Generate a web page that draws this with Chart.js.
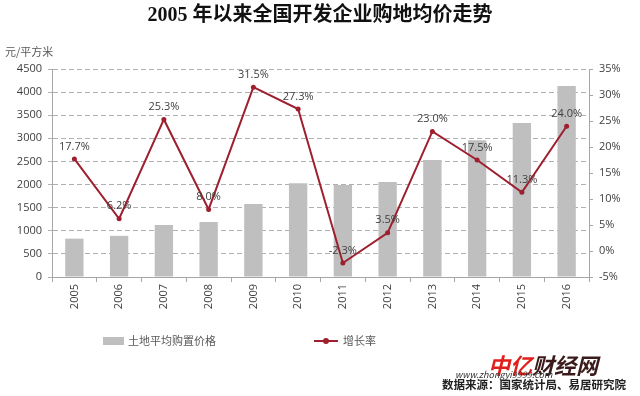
<!DOCTYPE html>
<html>
<head>
<meta charset="utf-8">
<script src="https://cdn.jsdelivr.net/npm/chart.js@4/dist/chart.umd.min.js"></script>
<style>
  body { margin: 0; background: #fff; }
  #wrap { position: relative; width: 640px; height: 396px; overflow: hidden; }
  #chart { position: absolute; left: 0; top: 0; }
  .txt { position: absolute; white-space: nowrap; font-family: "Noto Sans CJK SC", sans-serif; }
</style>
</head>
<body>
<div id="wrap">
  <canvas id="chart" width="640" height="396"></canvas>
  <div class="txt" style="left:0;width:640px;top:-2px;text-align:center;font-family:'Liberation Serif','Noto Sans CJK SC',serif;font-weight:bold;font-size:20px;color:#111;">2005 年以来全国开发企业购地均价走势</div>
  <div class="txt" style="left:5px;top:43px;font-size:11px;color:#595959;">元/平方米</div>
  <div style="position:absolute;left:103px;top:337px;width:21px;height:8px;background:#bfbfbf;"></div>
  <div class="txt" style="left:128px;top:332px;font-size:11px;color:#595959;">土地平均购置价格</div>
  <div style="position:absolute;left:314px;top:340px;width:24px;height:2px;background:#9e1f2e;"></div>
  <div style="position:absolute;left:323px;top:338px;width:6px;height:6px;border-radius:3px;background:#9e1f2e;"></div>
  <div class="txt" style="left:343px;top:332px;font-size:11px;color:#595959;">增长率</div>
  <div class="txt" style="left:488px;top:352px;font-size:22px;line-height:24px;font-weight:bold;font-style:italic;"><span style="color:#e0201c;">中亿</span><span style="color:#3a1a1a;">财经网</span></div>
  <div class="txt" style="left:455px;top:368px;font-size:9px;font-style:italic;color:#333;">www.zhongyi9999.com</div>
  <div class="txt" style="left:442px;top:376px;font-size:11.5px;font-weight:bold;color:#222;">数据来源：国家统计局、易居研究院</div>
</div>
<script>
const years = ["2005", "2006", "2007", "2008", "2009", "2010", "2011", "2012", "2013", "2014", "2015", "2016"];
const landPrice = [830, 890, 1125, 1190, 1580, 2030, 1990, 2055, 2530, 2960, 3330, 4130];
const growth = [17.7, 6.2, 25.3, 8.0, 31.5, 27.3, -2.3, 3.5, 23.0, 17.5, 11.3, 24.0];

const red = "#9e1f2e";

// draws the % value above each point of the growth line
const pointLabels = {
  id: "pointLabels",
  afterDatasetsDraw(chart) {
    const ctx = chart.ctx;
    const meta = chart.getDatasetMeta(1);
    ctx.save();
    ctx.font = "11px 'Open Sans', sans-serif";
    ctx.fillStyle = "#404040";
    ctx.textAlign = "center";
    ctx.textBaseline = "bottom";
    meta.data.forEach((pt, i) => {
      ctx.fillText(growth[i].toFixed(1) + "%", pt.x, pt.y - 7);
    });
    ctx.restore();
  }
};

new Chart(document.getElementById("chart"), {
  data: {
    labels: years,
    datasets: [
      {
        type: "bar",
        label: "土地平均购置价格",
        data: landPrice,
        backgroundColor: "#bfbfbf",
        barPercentage: 0.82,
        categoryPercentage: 0.5,
        yAxisID: "y",
        order: 2
      },
      {
        type: "line",
        label: "增长率",
        data: growth,
        borderColor: red,
        backgroundColor: red,
        borderWidth: 2,
        pointRadius: 2.5,
        pointBackgroundColor: red,
        pointBorderWidth: 0,
        tension: 0,
        yAxisID: "y1",
        order: 1
      }
    ]
  },
  plugins: [pointLabels],
  options: {
    responsive: false,
    animation: false,
    layout: { padding: { top: 69, left: 0, right: 0, bottom: 0 } },
    plugins: {
      legend: { display: false },
      tooltip: { enabled: false }
    },
    scales: {
      x: {
        grid: { display: true, drawOnChartArea: false, offset: true, color: "#a6a6a6", tickLength: 5 },
        border: { color: "#a6a6a6" },
        ticks: {
          color: "#404040",
          font: { size: 11, family: "'Open Sans', sans-serif" },
          minRotation: 90,
          maxRotation: 90,
          padding: 2
        },
        afterFit(s) { s.height = 119; }
      },
      y: {
        position: "left",
        min: 0,
        max: 4500,
        ticks: {
          stepSize: 500,
          color: "#404040",
          font: { size: 11, family: "'Open Sans', sans-serif" },
          padding: 6,
          callback: v => String(v)
        },
        grid: { color: "#b0b0b0", tickLength: 4, drawTicks: true },
        border: { color: "#a6a6a6", dash: [5, 3], display: true },
        afterFit(s) { s.width = 52; }
      },
      y1: {
        position: "right",
        min: -5,
        max: 35,
        ticks: {
          stepSize: 5,
          color: "#404040",
          font: { size: 11, family: "'Open Sans', sans-serif" },
          padding: 6,
          callback: v => v + "%"
        },
        grid: { drawOnChartArea: false, color: "#a6a6a6", tickLength: 4 },
        border: { color: "#a6a6a6" },
        afterFit(s) { s.width = 51; }
      }
    }
  }
});
</script>
</body>
</html>
